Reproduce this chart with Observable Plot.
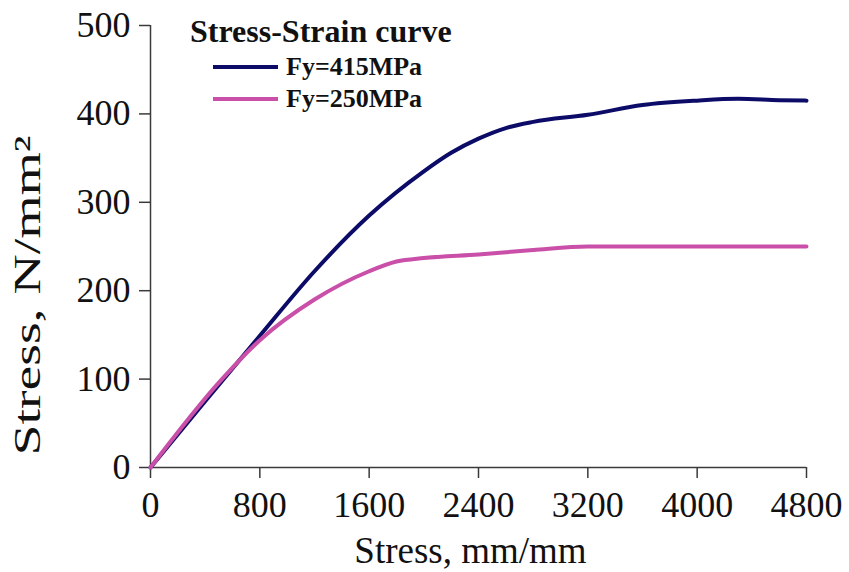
<!DOCTYPE html>
<html>
<head>
<meta charset="utf-8">
<script src="https://cdn.jsdelivr.net/npm/d3@7"></script>
<script src="https://cdn.jsdelivr.net/npm/@observablehq/plot@0.6"></script>
<style>
  html, body { margin: 0; padding: 0; background: #fff; }
  #wrap { position: relative; width: 849px; height: 572px; font-family: "Liberation Serif", "Times New Roman", serif; }
  #legend { position: absolute; left: 0; top: 0; pointer-events: none; }
</style>
</head>
<body>
<div id="wrap"></div>
<script>
// ---- data ----
const xTicks = [0, 800, 1600, 2400, 3200, 4000, 4800];
const yTicks = [0, 100, 200, 300, 400, 500];
const seriesNames = ["Fy=415MPa", "Fy=250MPa"];
const seriesColors = ["#0c0c68", "#c94fa8"];
const strain415 = [0, 400, 800, 1200, 1600, 2000, 2200, 2400, 2600, 2800, 3200, 3600, 4000, 4300, 4600, 4800];
const stress415 = [0, 75, 149, 222, 285, 335, 356, 372, 384, 391, 399, 410, 415, 417, 415.5, 415];
const strain250 = [0, 500, 800, 1200, 1600, 1800, 2000, 2400, 2800, 3200, 3600, 4000, 4800];
const stress250 = [0, 96, 144, 190, 222, 233, 237, 241, 246, 250, 250, 250, 250];
const titleText = "Stress-Strain curve";
const xLabel = "Stress, mm/mm";
const yLabel = "Stress, N/mm²";

const rows = [
  ...strain415.map((x, i) => ({x, y: stress415[i], s: seriesNames[0]})),
  ...strain250.map((x, i) => ({x, y: stress250[i], s: seriesNames[1]}))
];

const axisColor = "#3a3a3a";
const plot = Plot.plot({
  width: 849,
  height: 572,
  marginLeft: 150,
  marginRight: 43,
  marginTop: 25,
  marginBottom: 105,
  style: {fontFamily: "'Liberation Serif', 'Times New Roman', serif", background: "#fff", color: "#111"},
  x: {domain: [0, 4800]},
  y: {domain: [0, 500]},
  color: {domain: seriesNames, range: seriesColors},
  marks: [
    Plot.axisX({ticks: xTicks, tickSize: 11, tickPadding: 13, fontSize: 36, label: null, stroke: axisColor, strokeWidth: 1.5, tickFormat: d => String(d)}),
    Plot.axisY({ticks: yTicks, tickSize: 11, tickPadding: 9, fontSize: 36, label: null, stroke: axisColor, strokeWidth: 1.5, tickFormat: d => String(d)}),
    Plot.ruleY([0], {stroke: axisColor, strokeWidth: 1.5}),
    Plot.ruleX([0], {stroke: axisColor, strokeWidth: 1.5}),
    Plot.line(rows, {x: "x", y: "y", z: "s", stroke: "s", strokeWidth: 4, curve: "monotone-x"}),
    Plot.text([xLabel], {frameAnchor: "bottom", text: d => d, fontSize: 37, dy: 95, dx: -8, fill: "#111", className: "xlab"}),
    Plot.text([yLabel], {frameAnchor: "bottom-left", text: d => d, fontSize: 38, rotate: -90, textAnchor: "start", dx: -111, dy: -12, fill: "#111", className: "ylab"})
  ]
});
document.getElementById("wrap").appendChild(plot);

// stretch the y label to match the reference's length
d3.select(plot).selectAll(".ylab text").attr("textLength", 320).attr("lengthAdjust", "spacingAndGlyphs");

// legend overlay (inside plot area)
const leg = d3.select("#wrap").append("svg").attr("id", "legend").attr("width", 849).attr("height", 140);
leg.append("text").attr("x", 190).attr("y", 42).attr("font-size", 32).attr("font-weight", "bold")
  .attr("font-family", "'Liberation Serif', 'Times New Roman', serif").attr("fill", "#111").text(titleText);
seriesNames.forEach((name, i) => {
  const y = 67 + i * 32;
  leg.append("line").attr("x1", 213).attr("x2", 278).attr("y1", y).attr("y2", y)
    .attr("stroke", seriesColors[i]).attr("stroke-width", 4);
  leg.append("text").attr("x", 286).attr("y", y + 8).attr("font-size", 26).attr("font-weight", "bold")
    .attr("font-family", "'Liberation Serif', 'Times New Roman', serif").attr("fill", "#111").text(name);
});
</script>
</body>
</html>
